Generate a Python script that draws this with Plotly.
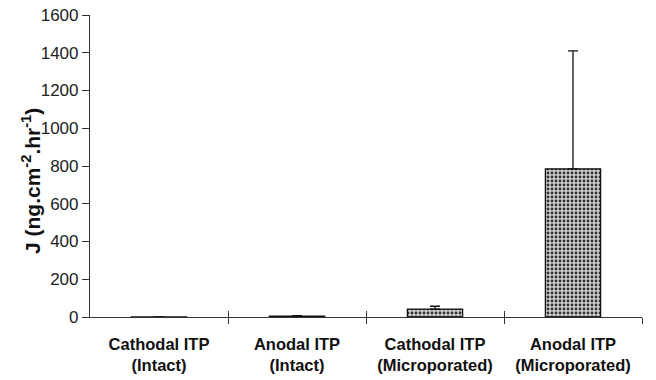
import plotly.graph_objects as go

categories = ["<b>Cathodal ITP</b><br><b>(Intact)</b>", "<b>Anodal ITP</b><br><b>(Intact)</b>",
              "<b>Cathodal ITP</b><br><b>(Microporated)</b>", "<b>Anodal ITP</b><br><b>(Microporated)</b>"]
means = [0.5, 5, 42, 785]
errors_plus = [0.5, 2, 15, 625]
positions = [0.5, 1.5, 2.5, 3.5]
dividers = [1, 2, 3, 4]
y_ticks = [0, 200, 400, 600, 800, 1000, 1200, 1400, 1600]
y_title = "<b>J (ng.cm<sup>-2</sup>.hr<sup>-1</sup>)</b>"

FONT = "Liberation Sans, Arial, sans-serif"

fig = go.Figure()
fig.add_trace(go.Bar(
    x=positions, y=means, width=0.4,
    marker=dict(color="#cfcfcf",
                line=dict(color="#111", width=1.3),
                pattern=dict(shape=".", fgcolor="#333", bgcolor="#cfcfcf",
                             size=4, solidity=0.4, fillmode="replace")),
    error_y=dict(type="data", symmetric=False, array=errors_plus,
                 arrayminus=[0] * 4, color="#111", thickness=1.3, width=5),
    showlegend=False,
))
# invisible trace for the overlay axis (inside ticks at dividers)
fig.add_trace(go.Scatter(x=[0, 4], y=[0, 0], xaxis="x2", mode="markers",
                         marker=dict(opacity=0), showlegend=False, hoverinfo="skip"))

fig.update_layout(
    width=656, height=380,
    margin=dict(l=90, r=14, t=15, b=63),
    paper_bgcolor="white", plot_bgcolor="white",
    font=dict(family=FONT, color="#1a1a1a"),
    xaxis=dict(range=[0, 4], tickmode="array", tickvals=positions, ticktext=categories,
               ticks="", showline=True, linecolor="#333", linewidth=1.2,
               tickfont=dict(size=16.5, family=FONT, color="#111"),
               ticklabelstandoff=12, automargin=False,
               showgrid=False, zeroline=False,
               minor=dict(tickmode="array", tickvals=dividers, ticks="outside",
                          ticklen=6, tickwidth=1.2, tickcolor="#333", showgrid=False)),
    xaxis2=dict(range=[0, 4], overlaying="x", side="bottom", anchor="y",
                tickmode="array", tickvals=dividers, ticks="inside", ticklen=6,
                tickwidth=1.2, tickcolor="#333", showticklabels=False,
                showline=False, showgrid=False, zeroline=False, automargin=False),
    yaxis=dict(range=[0, 1600], tickmode="array", tickvals=y_ticks,
               ticks="outside", ticklen=7, tickwidth=1.2, tickcolor="#333",
               showline=True, linecolor="#333", linewidth=1.2,
               showgrid=False, zeroline=False, automargin=False,
               tickfont=dict(size=17, family=FONT, color="#222")),
    annotations=[dict(text=y_title, textangle=-90, xref="paper", yref="paper",
                      x=-0.107, y=0.45, xanchor="center", yanchor="middle",
                      showarrow=False, font=dict(size=21, family=FONT, color="#111"))],
)

fig.write_html("out.html")
